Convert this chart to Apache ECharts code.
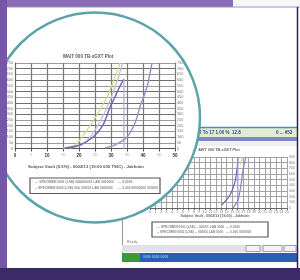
<!DOCTYPE html>
<html><head><meta charset="utf-8">
<script src="https://cdn.jsdelivr.net/npm/echarts@6/dist/echarts.min.js"></script>
<style>html,body{margin:0;padding:0;background:#fff}#c{width:300px;height:280px}</style>
</head><body><div id="c"></div>
<script>
// ---------- data ----------
const mainTitle = 'WAIT 000 TB-xGXT Plot';
const mainAxisTitle = 'Subject Vault (0.5%) - 0002/13 (19:00 000 TSIC) - Jakhuim';
const mainXLabels = ['0','5','10','15','20','25','30','35','40','45','50'];
const mainYLabels = ['0','50','100','150','200','250','300','350','400','450','500','550','600','650','700','750'];
const mainLegend = [
  ['— SPECIMEN 0001 (LSE) 0000', '— 000/01 LAB 0000000', '— 0.0000'],
  ['-- SPECIMEN 0002 (LSE) 000', '-- 000/02 LAB 0000000', '— 0.000 00000000 000000']
];
const yellowCurve = [[3.0,4],[3.75,30],[4.5,162],[5.31,338],[5.81,469],[6.25,627],[6.56,750]];
const greyCurve   = [[3.4,4],[4.2,35],[4.9,140],[5.55,300],[6.05,460],[6.45,620],[6.72,750]];
const blueCurve   = [[3.12,4],[4.06,31],[4.88,101],[5.5,206],[5.94,364],[6.25,452],[6.44,513],[6.81,610]];
const blueDrop    = [[6.81,610],[6.81,0]];
const purpleCurve = [[5.62,4],[6.25,31],[7.0,101],[7.5,224],[7.81,364],[8.25,539],[8.56,750]];

const smallTitle = 'AWT 000 TB-xGXT Plot';
const smallAxisTitle = 'Subject Vault - 0002/13 (19:00) - Jakhuim';
const smallToolbar = ['S2 To 17 1.00 %', '12.8', '0 ... #53'];
const smallXLabels = ['0','1','2','3','4','5','6','7','8','9','10','11','12','13','14','15','16','17','18','19','20','21','22','23','24','25'];
const smallYLabels = ['0','100','200','300','400','500','600','700','800','900'];
const smallLegend = [
  ['— SPECIMEN 0001 (LSE)', '— 000/01 LAB 0000', '— 0.0000'],
  ['-- SPECIMEN 0002 (LSE)', '-- 000/02 LAB 0000', '— 0.000 0000000']
];
const smallBlue   = [[13.1,53],[14.6,229],[15.5,459],[15.9,706],[16.06,900]];
const smallDrop   = [[16.06,900],[16.06,0]];
const smallPurple = [[15.1,0],[16.06,141],[16.6,406],[16.97,670],[17.5,900]];
const smallYellow = [[16.4,759],[16.97,900]];

// ---------- chart ----------
const F = 'Liberation Sans';
const chart = echarts.init(document.getElementById('c'), null, {renderer:'canvas'});

function txt(x, y, s, size, color, opt) {
  return Object.assign({type:'text', x:x, y:y, z:8,
    style:{text:s, fontSize:size, fontFamily:F, fill:color, fontWeight:'bold', align:'left', verticalAlign:'middle'}}, opt||{});
}
const g = [];
// small window (behind circle)
g.push({type:'rect', z:1, shape:{x:122,y:128,width:175,height:9}, style:{fill:'#e2ebd4'}});
g.push({type:'rect', z:1, shape:{x:122,y:137,width:175,height:4}, style:{fill:'#7f87c9'}});
g.push({type:'rect', z:1, shape:{x:122,y:141,width:175,height:5}, style:{fill:'#eceef0'}});
g.push({type:'line', z:1, shape:{x1:122,y1:127.5,x2:297,y2:127.5}, style:{stroke:'#3f9aa4', lineWidth:1.5}});
g.push({type:'line', z:1, shape:{x1:122.5,y1:127,x2:122.5,y2:262}, style:{stroke:'#8a98a8', lineWidth:1}});
[196, 232, 276].forEach((x,i)=>g.push(Object.assign(txt(x,132.5,smallToolbar[i],4.5,'#2d4a86'),{z:2})));
g.push(Object.assign(txt(219,150,smallTitle,3.8,'#666',{}),{z:2}));
g[g.length-1].style.align='center';
g.push(Object.assign(txt(215,216,smallAxisTitle,3.6,'#666'),{z:2}));
g[g.length-1].style.align='center';
g.push({type:'rect', z:2, shape:{x:152,y:222,width:116,height:15}, style:{fill:'#fff', stroke:'#555', lineWidth:1.2}});
smallLegend.forEach((row,r)=>row.forEach((s,c)=>g.push(Object.assign(txt([157,195,226][c],227+r*5,s,3.2,'#888'),{z:3}))));
g.push(Object.assign(txt(127,242,'Ready',3.5,'#999'),{z:2}));
g.push({type:'rect', z:1, shape:{x:122,y:245,width:175,height:7}, style:{fill:'#dfe2e6'}});
[[246,14],[263,19],[284,12]].forEach(b=>g.push({type:'rect', z:2, shape:{x:b[0],y:245.5,width:b[1],height:6}, style:{fill:'#f0f2f4', stroke:'#8890a0', lineWidth:0.8}}));
g.push({type:'rect', z:1, shape:{x:122,y:253,width:175,height:9}, style:{fill:'#2d5db9'}});
g.push({type:'rect', z:2, shape:{x:122,y:253,width:18,height:9}, style:{fill:'#3d9a3c'}});
g.push(Object.assign(txt(143,257.5,'0000 0000 0000',3.5,'#9fb8e8'),{z:2}));
// magnifier circle
g.push({type:'circle', z:5, shape:{cx:95,cy:117.5,r:105}, style:{fill:'#ffffff', stroke:'#5ba3aa', lineWidth:2.5}});
// main chart texts
g.push(txt(88,56.5,mainTitle,4.5,'#555',{}));
g[g.length-1].style.align='center';
g.push(txt(86,166.5,mainAxisTitle,4.3,'#555'));
g[g.length-1].style.align='center';
g.push({type:'rect', z:8, shape:{x:30,y:178,width:130,height:15.5}, style:{fill:'#fff', stroke:'#555', lineWidth:1.2}});
mainLegend.forEach((row,r)=>row.forEach((s,c)=>g.push(txt([35,78,118][c],182.5+r*5.5,s,3.3,'#888'))));
// outer frame
g.push({type:'rect', z:20, shape:{x:0,y:0,width:233,height:7}, style:{fill:'#8a6bb6'}});
g.push({type:'rect', z:20, shape:{x:233,y:0,width:67,height:6}, style:{fill:'#f6f6f8'}});
g.push({type:'line', z:20, shape:{x1:7,y1:7,x2:300,y2:7}, style:{stroke:'#9c8cc6', lineWidth:1}});
g.push({type:'rect', z:20, shape:{x:0,y:0,width:7,height:280}, style:{fill:'#7656a8'}});
g.push({type:'rect', z:20, shape:{x:0,y:268,width:300,height:12}, style:{fill:'#3b2a68'}});
g.push({type:'line', z:20, shape:{x1:297.5,y1:7,x2:297.5,y2:268}, style:{stroke:'#2c2456', lineWidth:1.5}});

function lineSeries(data, color, xi, yi, z, w) {
  return {type:'line', data:data, xAxisIndex:xi, yAxisIndex:yi, z:z, smooth:0.3, showSymbol:false, silent:true,
          lineStyle:{color:color, width:w||1.3}, animation:false};
}

chart.setOption({
  backgroundColor:'#ffffff',
  animation:false,
  grid:[
    {left:15, top:63, width:160, height:85.5},
    {left:150, top:157, width:137, height:51}
  ],
  xAxis:[
    {gridIndex:0, type:'value', min:0, max:10, interval:1, z:6,
     axisLine:{show:true, lineStyle:{color:'#555', width:1.2}},
     axisTick:{show:true, length:3, lineStyle:{color:'#555'}},
     splitLine:{show:true, lineStyle:{color:'#7a7a7a', width:1.2}},
     axisLabel:{margin:5, fontFamily:F, hideOverlap:false, formatter:(v)=>{const i=Math.round(v); return i%2===0?'{b|'+mainXLabels[i]+'}':'{s|'+mainXLabels[i]+'}';},
       rich:{b:{fontSize:4.6, fontWeight:'bold', color:'#333'}, s:{fontSize:3.5, color:'#999'}}}},
    {gridIndex:1, type:'value', min:0, max:25, interval:1, z:2,
     axisLine:{show:true, lineStyle:{color:'#666'}},
     axisTick:{show:true, length:2, lineStyle:{color:'#666'}},
     splitLine:{show:true, lineStyle:{color:'#9a9a9a', width:0.9}},
     axisLabel:{margin:2, fontSize:3.5, color:'#777', fontFamily:F, formatter:(v)=>smallXLabels[Math.round(v)]}}
  ],
  yAxis:[
    {gridIndex:0, type:'value', min:0, max:750, interval:50, z:6,
     axisLine:{show:true, lineStyle:{color:'#666'}},
     axisTick:{show:false},
     splitLine:{show:true, lineStyle:{color:['#6f6f6f','#9c9c9c'], width:1.2}},
     axisLabel:{margin:2, fontSize:3.8, color:'#777', fontFamily:F, formatter:(v)=>mainYLabels[Math.round(v/50)]}},
    {gridIndex:0, type:'value', position:'right', min:0, max:750, interval:50, z:6,
     axisLine:{show:true, lineStyle:{color:'#777'}},
     axisTick:{show:false}, splitLine:{show:false},
     axisLabel:{margin:2, fontSize:3.8, color:'#777', fontFamily:F, formatter:(v)=>mainYLabels[Math.round(v/50)]}},
    {gridIndex:1, type:'value', position:'right', min:0, max:900, interval:100, z:2,
     axisLine:{show:true, lineStyle:{color:'#888'}},
     axisTick:{show:false},
     splitLine:{show:true, lineStyle:{color:'#9a9a9a', width:0.9}},
     axisLabel:{margin:2, fontSize:3.5, color:'#777', fontFamily:F, formatter:(v)=>smallYLabels[Math.round(v/100)]}}
  ],
  series:[
    lineSeries(yellowCurve, '#d3db8c', 0, 0, 7),
    lineSeries(greyCurve, '#c4c4d0', 0, 0, 7),
    lineSeries(blueCurve, '#6a6cc0', 0, 0, 7, 1.5),
    lineSeries(blueDrop, '#b6a8d8', 0, 0, 7, 1.2),
    lineSeries(purpleCurve, '#9a8ec6', 0, 0, 7, 1.4),
    lineSeries(smallBlue, '#5b6bc2', 1, 2, 3, 1.2),
    lineSeries(smallDrop, '#b6a8d8', 1, 2, 3, 1),
    lineSeries(smallPurple, '#8a80c2', 1, 2, 3, 1.2),
    lineSeries(smallYellow, '#d6d68e', 1, 2, 3, 1.2)
  ],
  graphic:{elements:g}
});
</script>
</body></html>
